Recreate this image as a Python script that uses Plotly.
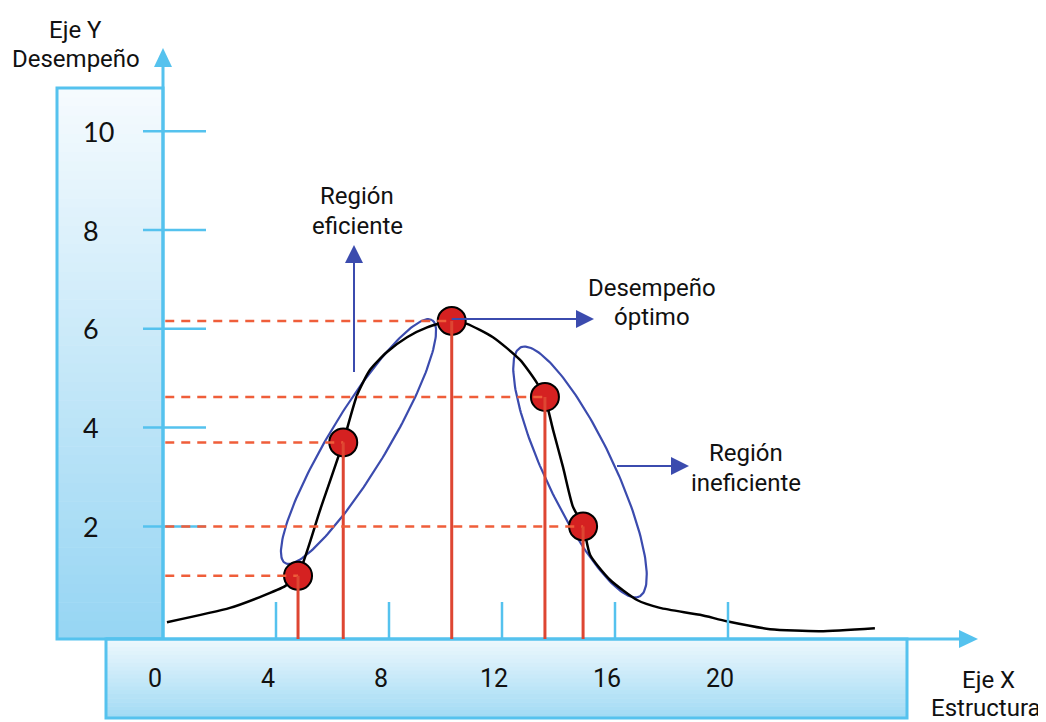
import numpy as np
import plotly.graph_objects as go

# ---------------- data (chart units) ----------------
curve_x = [0.14, 2.37, 3.43, 4.32, 4.78, 5.56, 6.37, 6.87, 7.33, 7.93, 8.64, 9.35, 10.23,
           10.76, 11.68, 12.64, 13.24, 13.52, 13.81, 14.16, 14.51, 14.87, 15.12, 15.82,
           16.78, 17.59, 19.01, 19.96, 21.49, 23.26, 25.20]
curve_y = [0.06, 0.35, 0.57, 0.79, 1.02, 2.33, 3.69, 4.66, 5.17, 5.53, 5.83, 6.03, 6.16,
           6.10, 5.83, 5.37, 4.90, 4.60, 3.95, 3.20, 2.40, 2.01, 1.42, 0.92,
           0.51, 0.35, 0.21, 0.08, -0.08, -0.12, -0.06]
point_x = [4.78, 6.38, 10.22, 13.52, 14.87]
point_y = [1.0, 3.7, 6.16, 4.62, 2.0]
y_tick_vals = [2, 4, 6, 8, 10]
y_tick_text = ["2", "4", "6", "8", "10"]
x_tick_vals = [4, 8, 12, 16, 20]
x_label_vals = [0, 4, 8, 12, 16, 20]
x_label_text = ["0", "4", "8", "12", "16", "20"]

# ---------------- layout helpers ----------------
W, H = 1046, 722
OFF = 8.0  # page body margin
X0PX, XS = 163.0, 28.25
Y0PX, YS = 625.2, 49.4


def dx(px):
    return (px - X0PX) / XS


def dy(py):
    return (Y0PX - py) / YS


AXIS_Y = dy(639)
AX_BLUE = "#55C2EE"
ARROW_BLUE = "#3B4BAE"
RED_DOT = "#D52121"
RED_LINE = "#DE4632"
RED_DASH = "#EF5E3A"
NARROW = "Liberation Sans Narrow, Arial Narrow, Roboto, Liberation Sans, sans-serif"
NUMFONT = "Lato, Open Sans, sans-serif"

shapes = []


def tri(tip, direction, length=18, half=9):
    tx, ty = tip  # pixels
    if direction == "up":
        pts = [(tx, ty), (tx - half, ty + length), (tx + half, ty + length)]
    else:
        pts = [(tx, ty), (tx - length, ty - half), (tx - length, ty + half)]
    return "M {},{} L {},{} L {},{} Z".format(*[v for (a, b) in pts for v in (dx(a), dy(b))])


def lerp(c1, c2, t):
    return "rgb({},{},{})".format(*[int(round(a + (b - a) * t)) for a, b in zip(c1, c2)])


def grad_box(x0, x1, y0, y1, ctop, cbot, n=60):
    for i in range(n):
        ya = y0 + (y1 - y0) * i / n
        yb = y0 + (y1 - y0) * (i + 1) / n + 0.6
        shapes.append(dict(type="rect", xref="x", yref="y", x0=dx(x0), x1=dx(x1),
                           y0=dy(ya), y1=dy(min(yb, y1)), line=dict(width=0),
                           fillcolor=lerp(ctop, cbot, (i + 0.5) / n), layer="below"))
    shapes.append(dict(type="rect", xref="x", yref="y", x0=dx(x0), x1=dx(x1),
                       y0=dy(y0), y1=dy(y1), line=dict(color=AX_BLUE, width=3),
                       fillcolor="rgba(0,0,0,0)", layer="below"))


# boxes
grad_box(57, 163, 88, 639, (246, 251, 254), (150, 213, 243))
grad_box(106, 907, 639, 718, (238, 248, 253), (160, 218, 244), n=20)

# axes
shapes.append(dict(type="line", xref="x", yref="y", x0=0, x1=0, y0=AXIS_Y, y1=dy(64),
                   line=dict(color=AX_BLUE, width=3)))
shapes.append(dict(type="path", xref="x", yref="y", path=tri((163, 48), "up", 19, 9),
                   fillcolor=AX_BLUE, line=dict(width=0)))
shapes.append(dict(type="line", xref="x", yref="y", x0=dx(106), x1=dx(962), y0=AXIS_Y, y1=AXIS_Y,
                   line=dict(color=AX_BLUE, width=3)))
shapes.append(dict(type="path", xref="x", yref="y", path=tri((978, 639), "right", 19, 9),
                   fillcolor=AX_BLUE, line=dict(width=0)))

# tick marks
for v in y_tick_vals:
    shapes.append(dict(type="line", xref="x", yref="y", x0=dx(143), x1=dx(206), y0=v, y1=v,
                       line=dict(color=AX_BLUE, width=2.5)))
for v in x_tick_vals:
    shapes.append(dict(type="line", xref="x", yref="y", x0=v, x1=v, y0=AXIS_Y, y1=dy(602),
                       line=dict(color=AX_BLUE, width=2.5)))

# red guide lines
for px_, py_ in zip(point_x, point_y):
    shapes.append(dict(type="line", xref="x", yref="y", x0=0.08, x1=px_, y0=py_, y1=py_,
                       line=dict(color=RED_DASH, width=2.5, dash="9px,7px")))
    shapes.append(dict(type="line", xref="x", yref="y", x0=px_, x1=px_, y0=py_, y1=AXIS_Y,
                       line=dict(color=RED_LINE, width=3)))

# blue arrows
shapes.append(dict(type="line", xref="x", yref="y", x0=dx(354), x1=dx(354), y0=dy(372), y1=dy(258),
                   line=dict(color=ARROW_BLUE, width=2)))
shapes.append(dict(type="path", xref="x", yref="y", path=tri((354, 245), "up", 18, 9),
                   fillcolor=ARROW_BLUE, line=dict(width=0)))
shapes.append(dict(type="line", xref="x", yref="y", x0=point_x[2], x1=dx(582), y0=dy(319), y1=dy(319),
                   line=dict(color=ARROW_BLUE, width=2)))
shapes.append(dict(type="path", xref="x", yref="y", path=tri((594, 319), "right", 18, 9),
                   fillcolor=ARROW_BLUE, line=dict(width=0)))
shapes.append(dict(type="line", xref="x", yref="y", x0=dx(617), x1=dx(676), y0=dy(466), y1=dy(466),
                   line=dict(color=ARROW_BLUE, width=2)))
shapes.append(dict(type="path", xref="x", yref="y", path=tri((689, 466), "right", 18, 9),
                   fillcolor=ARROW_BLUE, line=dict(width=0)))

fig = go.Figure()


def ellipse(cx, cy, a, b, ux, uy):
    n = np.hypot(ux, uy)
    ux, uy = ux / n, uy / n
    vx, vy = -uy, ux
    t = np.linspace(0, 2 * np.pi, 200)
    px = cx + a * np.cos(t) * ux + b * np.sin(t) * vx
    py = cy + a * np.cos(t) * uy + b * np.sin(t) * vy
    return dx(px), dy(py)


ex, ey = ellipse(358.5, 441.5, 142, 29, 147, -243)
fig.add_trace(go.Scatter(x=ex, y=ey, mode="lines", line=dict(color=ARROW_BLUE, width=2.2),
                         hoverinfo="skip", showlegend=False))
ex, ey = ellipse(580, 472, 138, 34, 118, 248)
fig.add_trace(go.Scatter(x=ex, y=ey, mode="lines", line=dict(color=ARROW_BLUE, width=2.2),
                         hoverinfo="skip", showlegend=False))

# performance curve
fig.add_trace(go.Scatter(x=curve_x, y=curve_y, mode="lines",
                         line=dict(color="black", width=2.5, shape="spline", smoothing=0.6),
                         showlegend=False))
# points
fig.add_trace(go.Scatter(x=point_x, y=point_y, mode="markers",
                         marker=dict(size=28, color=RED_DOT, line=dict(color="black", width=2)),
                         showlegend=False))

annotations = []
for v, t in zip(y_tick_vals, y_tick_text):
    annotations.append(dict(x=dx(81), y=v, xref="x", yref="y", text=t, showarrow=False,
                            xanchor="left", yanchor="middle",
                            font=dict(family=NUMFONT, size=27, color="#111")))
for v, t in zip(x_label_vals, x_label_text):
    annotations.append(dict(x=v, y=dy(678), xref="x", yref="y", text=t, showarrow=False,
                            xanchor="center", yanchor="middle", xshift=-8,
                            font=dict(family=NARROW, size=25, color="#111")))


def label(px, py, text):
    annotations.append(dict(x=dx(px), y=dy(py), xref="x", yref="y", text=text, showarrow=False,
                            xanchor="center", yanchor="middle",
                            font=dict(family=NARROW, size=24, color="#111")))


label(75, 30, "Eje Y")
label(76, 59, "Desempeño")
label(988, 680, "Eje X")
label(986, 708, "Estructura")
label(357, 196, "Región")
label(357, 226, "eficiente")
label(652, 288, "Desempeño")
label(652, 317, "óptimo")
label(746, 453, "Región")
label(746, 483, "ineficiente")

# the page body adds an 8px margin: figure pixel 0 appears at window pixel OFF
fig.update_layout(
    width=W, height=H, margin=dict(l=0, r=0, t=0, b=0),
    paper_bgcolor="white", plot_bgcolor="white",
    xaxis=dict(range=[dx(OFF), dx(W + OFF)], visible=False, fixedrange=True),
    yaxis=dict(range=[dy(H + OFF), dy(OFF)], visible=False, fixedrange=True),
    shapes=shapes, annotations=annotations, showlegend=False,
)
fig.write_html("out.html")
